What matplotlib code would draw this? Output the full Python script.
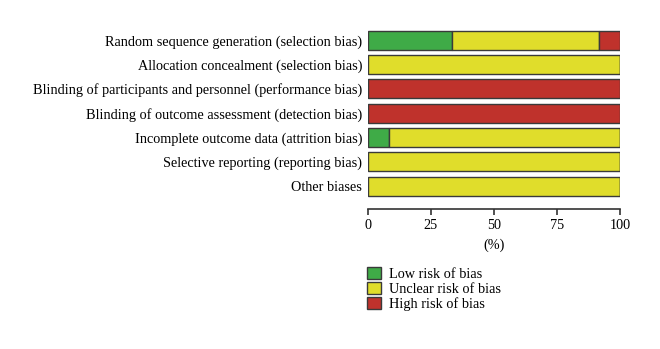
import matplotlib.pyplot as plt
from matplotlib.patches import Patch

# domini di rischio (dall'alto verso il basso)
domains = [
    'Random sequence generation (selection bias)',
    'Allocation concealment (selection bias)',
    'Blinding of participants and personnel (performance bias)',
    'Blinding of outcome assessment (detection bias)',
    'Incomplete outcome data (attrition bias)',
    'Selective reporting (reporting bias)',
    'Other biases',
]
low = [33.3, 0, 0, 0, 8.3, 0, 0]
unclear = [58.4, 100, 0, 0, 91.7, 100, 100]
high = [8.3, 0, 100, 100, 0, 0, 0]

ticks = [0, 25, 50, 75, 100]
legend_labels = ['Low risk of bias', 'Unclear risk of bias', 'High risk of bias']

c_low = '#3fab47'
c_unclear = '#e0dd2b'
c_high = '#bf322c'
edge = '#3a3a3a'

plt.rcParams['font.family'] = ['Liberation Serif', 'DejaVu Serif']
fs = 10.3

fig = plt.figure(figsize=(6.6, 3.49), dpi=100)
ax = fig.add_axes([0.557, 0.4011, 0.3826, 0.5186])

y = list(range(len(domains)))
left_unclear = low
left_high = [a + b for a, b in zip(low, unclear)]
kw = dict(height=0.78, edgecolor=edge, linewidth=1.0)
ax.barh(y, low, color=c_low, **kw)
ax.barh(y, unclear, left=left_unclear, color=c_unclear, **kw)
ax.barh(y, high, left=left_high, color=c_high, **kw)

ax.set_xlim(0, 100)
ax.set_ylim(6.94, -0.5)
ax.set_yticks(y)
ax.set_yticklabels(domains, fontsize=fs)
ax.tick_params(axis='y', length=0, pad=4)
ax.set_xticks(ticks)
ax.set_xticklabels([str(t) for t in ticks], fontsize=fs)
ax.tick_params(axis='x', length=4, width=1.2, color='#333333', pad=3)
ax.set_xlabel('(%)', fontsize=fs, labelpad=5)
for s in ['left', 'right', 'top']:
    ax.spines[s].set_visible(False)
ax.spines['bottom'].set_linewidth(1.2)
ax.spines['bottom'].set_color('#333333')

handles = [Patch(facecolor=c, edgecolor=edge, linewidth=1.0)
           for c in (c_low, c_unclear, c_high)]
fig.legend(handles, legend_labels, loc='upper left',
           bbox_to_anchor=(0.541, 0.265), frameon=False, fontsize=fs,
           handlelength=1.0, handleheight=1.0, handletextpad=0.5,
           labelspacing=0.05, borderpad=0.2)

fig.savefig('out.png', dpi=100)
